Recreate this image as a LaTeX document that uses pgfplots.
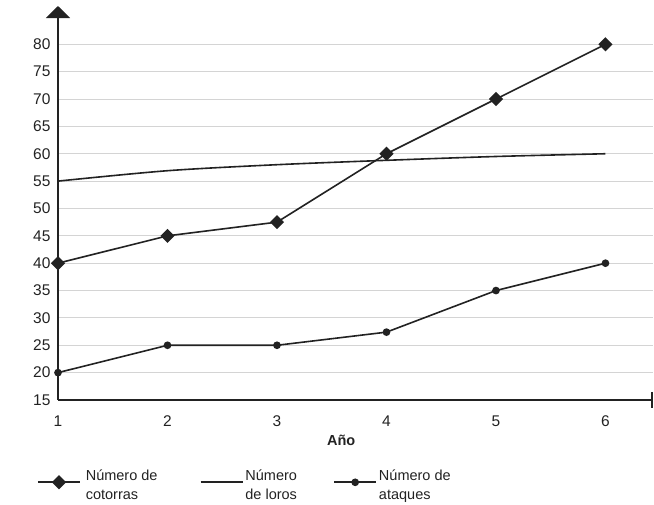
\documentclass[border=0pt]{standalone}
\usepackage{pgfplots}
\pgfplotsset{compat=1.18}
\usetikzlibrary{arrows.meta}
\usepackage{fontspec}
\setmainfont{Liberation Sans}
\definecolor{ink}{HTML}{222222}
\definecolor{gridc}{HTML}{D4D4D4}
\begin{document}
\begin{tikzpicture}
\begin{axis}[
  name=ax,
  scale only axis, width=595pt, height=394pt,
  xmin=1, xmax=6.434, ymin=15, ymax=87,
  xtick={1,2,3,4,5,6}, ytick={15,20,...,80},
  major tick length=0pt,
  axis lines=left,
  axis line style={ink, line width=1.8pt},
  x axis line style={-{Bar[width=16pt,line width=1.8pt]}},
  y axis line style={-{Triangle[width=24pt,length=12pt]}},
  ymajorgrids, grid style={gridc, line width=1pt},
  tick label style={font=\fontsize{15.5}{17}\selectfont, text=ink},
  /pgf/number format/assume math mode=true,
  yticklabel style={xshift=-4pt},
  xticklabel style={yshift=-12pt},
  xlabel={\textbf{Año}},
  xlabel style={font=\fontsize{14.5}{16}\selectfont, text=ink, at={(rel axis cs:0.476,0)}, anchor=north, yshift=-32pt},
  clip=false,
  legend columns=3,
  legend style={draw=none, fill=none, at={(rel axis cs:0,0)}, anchor=north west, xshift=-21pt, yshift=-68pt,
    font=\fontsize{14.5}{19}\selectfont, text=ink, row sep=0pt, inner sep=0pt,
    /tikz/every even column/.append style={column sep=0pt}},
  legend cell align=left,
  legend image code/.code={\draw[mark repeat=2,mark phase=2] plot coordinates {(0pt,-6pt)(21pt,-6pt)(42pt,-6pt)};},
  every axis plot/.append style={ink, line width=1.6pt},
]
\addplot[mark=square*, mark size=4.2pt, mark options={fill=ink, rotate=45}] coordinates {(1,40) (2,45) (3,47.5) (4,60) (5,70) (6,80)};
\addlegendentry{\parbox[t]{115pt}{\hspace*{3pt}Número de\\\hspace*{3pt}cotorras}}
\addplot[smooth, no marks] coordinates {(1,55) (2,56.9) (3,58.0) (4,58.8) (5,59.5) (6,60)};
\addlegendentry{\parbox[t]{86pt}{Número\\de loros}}
\addplot[mark=*, mark size=3pt, mark options={fill=ink}] coordinates {(1,20) (2,25) (3,25) (4,27.4) (5,35) (6,40)};
\addlegendentry{\parbox[t]{90pt}{Número de\\ataques}}
\end{axis}
\pgfresetboundingbox
\path ([shift={(-58pt,-105pt)}]ax.south west) rectangle ([shift={(1pt,6pt)}]ax.north east);
\end{tikzpicture}
\end{document}
